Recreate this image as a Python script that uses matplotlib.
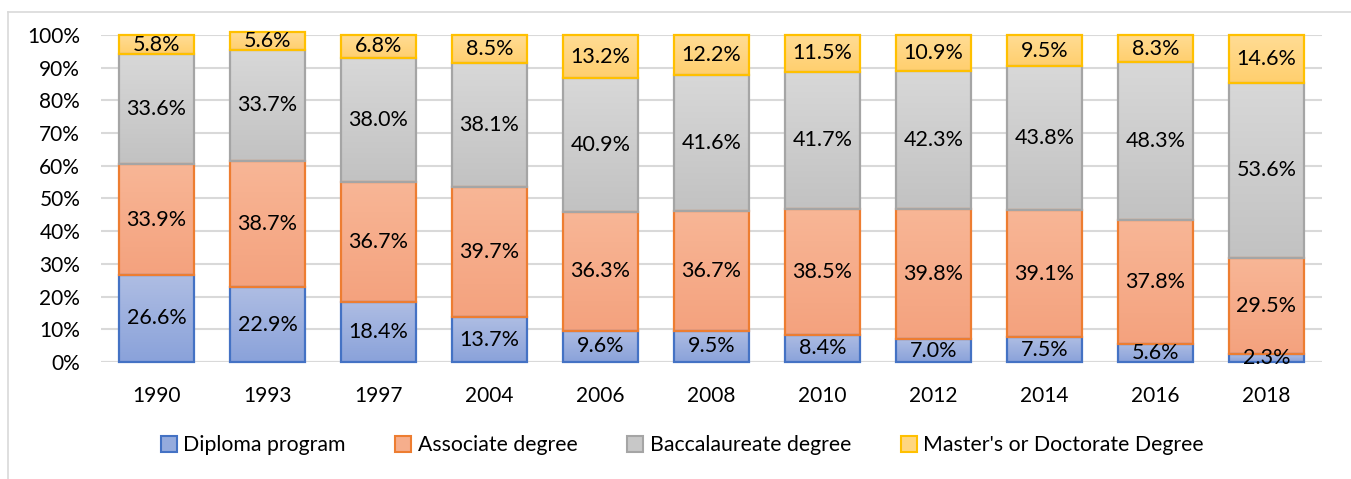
import matplotlib
matplotlib.use("Agg")
import matplotlib.pyplot as plt
import numpy as np
from matplotlib.colors import LinearSegmentedColormap
from matplotlib.patches import Patch
from matplotlib.lines import Line2D

years = ["1990", "1993", "1997", "2004", "2006", "2008", "2010", "2012", "2014", "2016", "2018"]
diploma = [26.6, 22.9, 18.4, 13.7, 9.6, 9.5, 8.4, 7.0, 7.5, 5.6, 2.3]
associate = [33.9, 38.7, 36.7, 39.7, 36.3, 36.7, 38.5, 39.8, 39.1, 37.8, 29.5]
baccalaureate = [33.6, 33.7, 38.0, 38.1, 40.9, 41.6, 41.7, 42.3, 43.8, 48.3, 53.6]
masters = [5.8, 5.6, 6.8, 8.5, 13.2, 12.2, 11.5, 10.9, 9.5, 8.3, 14.6]
series_names = ["Diploma program", "Associate degree", "Baccalaureate degree",
                "Master's or Doctorate Degree"]
yticks = [0, 10, 20, 30, 40, 50, 60, 70, 80, 90, 100]

series = [diploma, associate, baccalaureate, masters]
edge_cols = ["#4472c4", "#ed7d31", "#a5a5a5", "#ffc000"]
grad_cols = [("#aebde3", "#8aa2da"), ("#f8b696", "#f4a27e"),
             ("#d8d8d8", "#c2c2c2"), ("#ffdc94", "#ffcf6e")]
legend_face = ["#95abdd", "#f6ae8c", "#c8c8c8", "#ffd680"]

plt.rcParams['font.family'] = ['Lato', 'DejaVu Sans']

fig = plt.figure(figsize=(13.51, 4.79), dpi=100)
ax = fig.add_axes([0.0748, 0.2443, 0.9037, 0.6827])

x = np.arange(len(years))
width = 0.675
bottom = np.zeros(len(years))
grad = np.linspace(0, 1, 64).reshape(-1, 1)
for vals, ec, (ctop, cbot) in zip(series, edge_cols, grad_cols):
    v = np.array(vals)
    bars = ax.bar(x, v, width, bottom=bottom, facecolor="none", edgecolor=ec,
                  linewidth=1.6, zorder=3, clip_on=False)
    cmap = LinearSegmentedColormap.from_list("g", [cbot, ctop])
    for b in bars:
        x0, y0 = b.get_x(), b.get_y()
        x1, y1 = x0 + b.get_width(), y0 + b.get_height()
        im = ax.imshow(grad, extent=[x0, x1, y0, y1], origin="lower", aspect="auto",
                       cmap=cmap, zorder=2, interpolation="bilinear")
        im.set_clip_on(False)
        yc = (y0 + y1) / 2
        ax.text(x0 + b.get_width() / 2, yc, f"{b.get_height():.1f}%",
                ha="center", va="center", fontsize=15.5, color="#000000", zorder=5)
    bottom = bottom + v

ax.set_xlim(-0.5, len(years) - 0.5)
ax.set_ylim(0, 100)
ax.set_yticks(yticks)
ax.set_yticklabels([f"{t}%" for t in yticks], fontsize=15)
ax.set_xticks(x)
ax.set_xticklabels(years, fontsize=15)
ax.tick_params(axis="both", length=0)
ax.tick_params(axis="y", pad=15)
ax.tick_params(axis="x", pad=17)
for s in ax.spines.values():
    s.set_visible(False)
ax.set_axisbelow(True)
ax.grid(axis="y", color="#d9d9d9", linewidth=1.5, zorder=0)
ax.axhline(0, color="#d9d9d9", linewidth=1.5, zorder=1)

handles = [Patch(facecolor=f, edgecolor=e, linewidth=1.5) for f, e in zip(legend_face, edge_cols)]
fig.legend(handles, series_names, loc="center", bbox_to_anchor=(0.505, 0.07), ncol=4,
           frameon=False, fontsize=15.3, handlelength=0.75, handleheight=0.75,
           handletextpad=0.3, columnspacing=2.35)

# chart frame lines
fig.add_artist(Line2D([8 / 1351, 8 / 1351], [0, 1 - 12 / 479], transform=fig.transFigure,
                      color="#d9d9d9", linewidth=1.2))
fig.add_artist(Line2D([8 / 1351, 1], [1 - 12 / 479, 1 - 12 / 479], transform=fig.transFigure,
                      color="#d9d9d9", linewidth=1.2))

fig.savefig("out.png", dpi=100)
